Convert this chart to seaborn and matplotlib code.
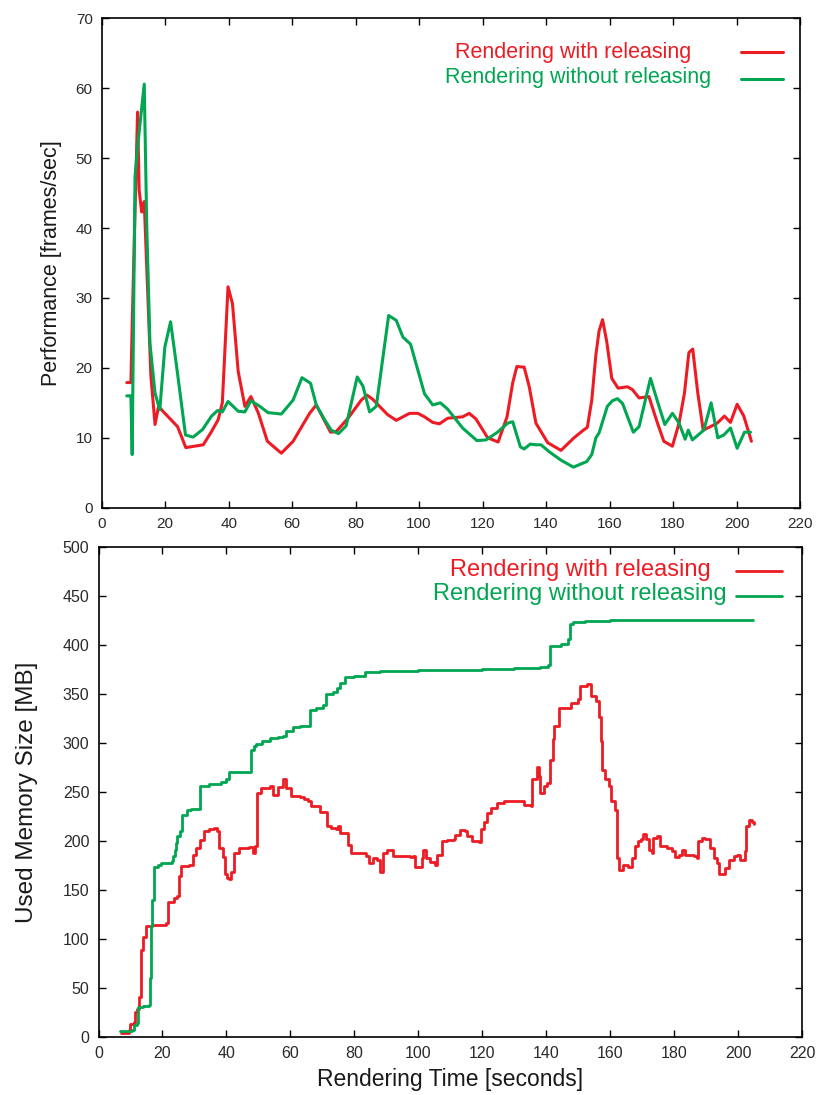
import matplotlib
matplotlib.use("Agg")
import matplotlib.pyplot as plt
import pandas as pd
import seaborn as sns

RED = "#ed1c24"
GREEN = "#00a651"
series_names = ["Rendering with releasing", "Rendering without releasing"]

# Frame rate over time, with releasing
fps_time_rel = [7.9, 9.2, 9.6, 11.3, 11.8, 12.6, 13.4, 15.5, 16.8, 17.9, 19.9, 23.9,
                26.5, 32.0, 34.6, 36.7, 38.0, 39.8, 41.2, 43.0, 45.1, 47.0, 49.3, 52.2,
                56.6, 60.3, 65.5, 67.6, 72.1, 73.9, 77.6, 81.8, 83.6, 85.4, 90.1, 92.8,
                97.0, 99.6, 101.7, 104.3, 106.4, 109.0, 113.7, 115.8, 117.9, 121.6, 124.9,
                127.7, 129.5, 130.8, 133.1, 134.7, 136.8, 140.5, 144.7, 148.8, 151.5, 153.0,
                154.4, 155.7, 156.7, 157.8, 159.1, 160.7, 162.7, 165.6, 167.2, 169.3, 172.4,
                175.1, 177.1, 179.8, 181.9, 183.6, 185.0, 186.2, 187.8, 189.5, 191.8, 193.9,
                196.2, 198.1, 200.2, 202.3, 204.7]
fps_rel = [17.9, 17.9, 26.1, 56.6, 45.4, 42.3, 43.8, 18.8, 11.9, 14.5, 13.5, 11.6,
           8.6, 9.0, 10.9, 12.6, 15.0, 31.6, 29.2, 19.5, 14.5, 15.9, 13.6, 9.5,
           7.8, 9.5, 13.5, 14.7, 10.8, 10.9, 12.8, 15.4, 16.1, 15.5, 13.3, 12.5,
           13.5, 13.5, 13.0, 12.2, 12.0, 12.8, 13.0, 13.5, 12.7, 10.0, 9.4,
           13.0, 17.9, 20.2, 20.1, 17.3, 12.1, 9.3, 8.2, 10.0, 11.0, 11.5,
           15.4, 21.9, 25.3, 26.9, 23.8, 18.5, 17.1, 17.3, 16.9, 15.7, 15.9,
           12.1, 9.5, 8.8, 12.1, 16.4, 22.2, 22.7, 16.4, 11.1, 11.6, 12.1,
           13.1, 12.2, 14.8, 13.1, 9.5]

# Frame rate over time, without releasing
fps_time_norel = [7.9, 9.2, 9.6, 10.5, 11.3, 13.4, 14.2, 15.2, 16.8, 18.3, 19.9, 21.7,
                  23.6, 26.4, 28.8, 31.8, 34.6, 36.5, 38.0, 39.8, 43.0, 45.1, 47.0, 49.8,
                  52.4, 56.6, 60.3, 63.1, 65.8, 67.6, 70.2, 72.3, 74.6, 77.0, 80.5, 82.3,
                  84.4, 86.5, 90.4, 92.8, 94.9, 97.3, 101.7, 104.3, 106.7, 109.0, 113.7,
                  118.2, 121.1, 124.7, 127.9, 129.5, 131.9, 133.1, 135.0, 136.8, 138.4,
                  141.0, 144.7, 148.6, 152.8, 154.4, 155.7, 156.7, 159.3, 160.9, 162.5,
                  164.1, 167.5, 169.3, 172.9, 175.1, 177.4, 179.8, 181.9, 183.8, 184.8,
                  186.1, 189.7, 192.0, 194.1, 196.0, 198.1, 200.2, 202.5, 204.4]
fps_norel = [16.0, 16.0, 7.6, 47.3, 51.6, 60.6, 40.2, 23.5, 16.4, 14.0, 23.0, 26.6,
             20.2, 10.4, 10.1, 11.2, 13.1, 13.9, 13.7, 15.2, 13.8, 13.7, 15.3, 14.5,
             13.6, 13.4, 15.4, 18.6, 17.8, 14.7, 12.6, 11.1, 10.6, 11.7, 18.7, 17.4,
             13.7, 14.5, 27.5, 26.8, 24.4, 23.4, 16.3, 14.7, 15.0, 14.1, 11.4,
             9.6, 9.7, 10.8, 12.1, 12.3, 8.7, 8.4, 9.1, 9.0, 9.0,
             8.0, 6.8, 5.8, 6.6, 7.6, 10.0, 10.7, 14.5, 15.3, 15.6,
             14.9, 10.8, 11.6, 18.5, 15.2, 11.9, 13.5, 12.1, 9.8, 11.1,
             9.7, 11.1, 15.0, 10.0, 10.4, 11.4, 8.5, 10.8, 10.8]

# Memory use over time, with releasing (value holds until the next sample)
mem_time_rel = [7.1, 9.4, 10.0, 11.0, 11.3, 12.0, 12.8, 13.3, 13.8, 15.0, 16.8, 21.0,
                21.7, 23.6, 24.6, 25.2, 25.7, 28.3, 29.4, 30.4, 31.8, 33.0, 34.5, 36.2,
                37.2, 37.7, 38.8, 39.6, 40.2, 40.7, 41.4, 42.5, 44.0, 47.2, 48.2, 48.8,
                49.5, 50.8, 53.5, 54.7, 56.1, 57.6, 58.7, 60.3, 62.9, 64.4, 65.5, 66.6,
                68.7, 69.2, 71.5, 72.8, 74.4, 74.9, 75.5, 77.6, 78.1, 79.1, 82.8, 83.6,
                84.7, 85.9, 87.1, 88.0, 88.9, 90.1, 92.2, 97.5, 98.3, 99.0, 100.4, 101.1,
                101.6, 102.5, 103.8, 105.3, 105.9, 107.4, 109.0, 111.1, 111.6, 113.2, 114.5,
                115.3, 116.9, 119.0, 119.5, 120.5, 121.6, 122.6, 124.7, 126.8, 132.1, 133.1,
                135.2, 135.7, 137.1, 137.8, 138.2, 139.4, 140.4, 141.3, 142.0, 142.5, 144.1,
                147.8, 149.9, 150.7, 152.8, 154.1, 155.7, 156.4, 157.0, 157.4, 158.5, 159.8,
                160.4, 161.4, 162.0, 162.7, 164.0, 165.6, 166.7, 167.7, 168.8, 169.8, 170.3,
                171.3, 172.2, 173.0, 173.5, 174.8, 175.6, 177.7, 179.2, 180.3, 181.4, 182.4,
                183.4, 186.1, 187.1, 187.6, 188.7, 189.7, 191.3, 192.4, 193.4, 193.9, 195.0,
                196.0, 197.1, 198.6, 199.7, 200.7, 202.3, 202.6, 203.4, 204.4, 204.9]
mem_rel = [4, 7, 14, 16, 26, 29, 41, 89, 102, 113, 115, 117,
           138, 142, 144, 164, 175, 176, 186, 193, 201, 210, 212, 213,
           210, 193, 184, 167, 162, 161, 169, 188, 193, 194, 188, 195,
           249, 254, 256, 247, 255, 263, 254, 246, 245, 243, 241, 236,
           236, 230, 215, 213, 212, 215, 208, 208, 196, 188, 188, 185,
           178, 183, 181, 169, 188, 191, 185, 184, 185, 174, 174, 183,
           191, 183, 179, 176, 186, 200, 201, 202, 206, 211, 210,
           205, 200, 199, 212, 220, 229, 234, 239, 241, 241, 237,
           236, 263, 276, 266, 249, 256, 259, 283, 304, 317, 336,
           341, 345, 358, 360, 348, 343, 327, 302, 273, 263, 256,
           241, 232, 183, 171, 176, 174, 183, 195, 200, 202, 207,
           202, 191, 188, 203, 205, 195, 193, 190, 184, 186, 191,
           186, 185, 183, 200, 203, 202, 193, 183, 178, 166, 166,
           173, 181, 185, 186, 181, 190, 215, 222, 220, 217]

# Memory use over time, without releasing (value holds until the next sample)
mem_time_norel = [6.8, 10.5, 11.0, 12.0, 12.4, 14.0, 15.7, 16.0, 16.3, 16.8, 17.3, 18.5,
                  19.4, 22.9, 23.4, 23.9, 24.3, 24.6, 25.6, 26.2, 27.8, 29.0, 31.8, 34.6,
                  38.3, 39.8, 40.9, 47.7, 48.5, 49.3, 51.0, 53.5, 56.0, 57.6, 58.7, 60.8,
                  63.0, 66.2, 68.0, 70.2, 71.3, 73.4, 74.5, 75.5, 77.0, 80.0, 82.8, 83.3,
                  88.0, 100.0, 110.0, 120.0, 130.0, 138.0, 140.5, 141.3, 144.7, 146.8,
                  147.3, 148.5, 152.0, 160.0, 204.6]
mem_norel = [6, 7, 13, 15, 31, 32, 33, 60, 113, 140, 174, 176,
             178, 180, 185, 191, 198, 205, 210, 227, 232, 233, 256, 258,
             260, 263, 271, 293, 297, 299, 302, 305, 306, 307, 312, 316,
             317, 334, 336, 339, 350, 352, 356, 361, 367, 368, 368, 372,
             373, 374, 375, 376, 377, 378, 380, 399, 401, 406,
             421, 423, 424, 425, 425]

time_ticks = list(range(0, 221, 20))
fps_ticks = list(range(0, 71, 10))
mem_ticks = list(range(0, 501, 50))

fps_df = pd.concat([
    pd.DataFrame({"time": fps_time_rel, "value": fps_rel, "mode": series_names[0]}),
    pd.DataFrame({"time": fps_time_norel, "value": fps_norel, "mode": series_names[1]}),
])
mem_df = pd.concat([
    pd.DataFrame({"time": mem_time_rel, "value": mem_rel, "mode": series_names[0]}),
    pd.DataFrame({"time": mem_time_norel, "value": mem_norel, "mode": series_names[1]}),
])

sns.set_theme(style="ticks")
plt.rcParams["font.family"] = ["Liberation Sans", "DejaVu Sans"]
plt.rcParams["axes.facecolor"] = "white"
plt.rcParams["figure.facecolor"] = "white"

W, H = 817, 1095
fig = plt.figure(figsize=(W / 100, H / 100), dpi=100)
ax_fps = fig.add_axes([101.7 / W, (H - 507.7) / H, (800 - 101.7) / W, 489.3 / H])
ax_mem = fig.add_axes([98.5 / W, (H - 1037.3) / H, (802 - 98.5) / W, 490.4 / H])

palette = {series_names[0]: RED, series_names[1]: GREEN}

sns.lineplot(data=fps_df, x="time", y="value", hue="mode", palette=palette,
             estimator=None, sort=False, linewidth=2.2, legend=False, ax=ax_fps)
sns.lineplot(data=mem_df, x="time", y="value", hue="mode", palette=palette,
             estimator=None, sort=False, linewidth=2.0, legend=False,
             drawstyle="steps-post", ax=ax_mem)


def frame(ax, yticks, ylim, tick_size):
    ax.set_xlim(0, 220)
    ax.set_ylim(*ylim)
    ax.set_xticks(time_ticks)
    ax.set_yticks(yticks)
    for sp in ax.spines.values():
        sp.set_visible(True)
        sp.set_color("black")
        sp.set_linewidth(1.2)
    ax.tick_params(direction="in", length=5, width=1.0, top=True, right=True,
                   color="black", labelcolor="#2a2a2a", labelsize=tick_size, pad=6.5)
    ax.grid(False)


frame(ax_fps, fps_ticks, (0, 70), 11)
frame(ax_mem, mem_ticks, (0, 500), 11.5)

ax_fps.set_xlabel("")
ax_fps.set_ylabel("Performance [frames/sec]", fontsize=15.5, labelpad=10, color="#1a1a1a")
ax_mem.set_xlabel("Rendering Time [seconds]", fontsize=16.5, labelpad=5, color="#1a1a1a")
ax_mem.set_ylabel("Used Memory Size [MB]", fontsize=17.5, labelpad=18, color="#1a1a1a")


def key(ax, anchor, size, handlelen, spacing, text_x, text_y):
    handles = ax.lines[:2]
    ax.legend(handles=handles, labels=["", ""], loc="upper right",
              bbox_to_anchor=anchor, frameon=False, borderpad=0, borderaxespad=0,
              handlelength=handlelen, handletextpad=0, labelspacing=spacing,
              fontsize=size)
    for name, colour, tx, ty in zip(series_names, [RED, GREEN], text_x, text_y):
        ax.text(tx, ty, name, transform=ax.transAxes, ha="center", va="center",
                color=colour, fontsize=size)


key(ax_fps, (0.9757, 0.9483), 15.5, 1.95, 0.25, [0.6754, 0.682], [0.9293, 0.8792])
key(ax_mem, (0.9716, 0.9678), 17, 1.95, 0.12, [0.6844, 0.6844], [0.9529, 0.9036])

fig.savefig("out.png", dpi=100)
